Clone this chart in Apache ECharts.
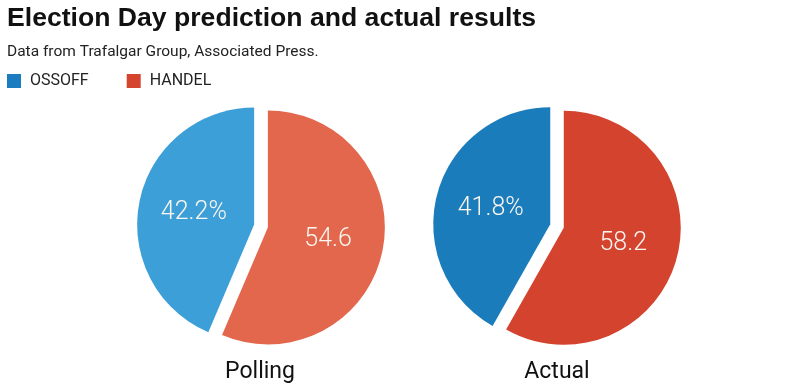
<!DOCTYPE html>
<html>
<head>
<meta charset="utf-8">
<script src="https://cdn.jsdelivr.net/npm/echarts@6/dist/echarts.min.js"></script>
<style>
html,body{margin:0;padding:0;background:#fff;}
#chart{width:800px;height:388px;}
</style>
</head>
<body>
<div id="chart"></div>
<script>
// Data
const candidates = ['OSSOFF', 'HANDEL'];
const pollingValues = [42.2, 54.6];
const actualValues = [41.8, 58.2];
const panelNames = ['Polling', 'Actual'];
const titleText = 'Election Day prediction and actual results';
const subtitleText = 'Data from Trafalgar Group, Associated Press.';

const pollingColors = ['#3d9fd8', '#e2674c'];
const actualColors = ['#1a7cbb', '#d3432e'];
const legendColors = ['#1b7dbf', '#d5442e'];

const FONT = 'Roboto, "Liberation Sans", sans-serif';
const TITLE_FONT = '"Liberation Sans", Arial, sans-serif';

function pieData(values, colors) {
  // Handel first so it starts at 12 o'clock going clockwise
  return [
    { name: candidates[1], value: values[1], selected: true, itemStyle: { color: colors[1] },
      label: { formatter: '{c}' } },
    { name: candidates[0], value: values[0], selected: true, itemStyle: { color: colors[0] },
      label: { formatter: '{c}%' } }
  ];
}

function pieSeries(name, values, colors, center) {
  return {
    type: 'pie',
    name: name,
    center: center,
    radius: 117,
    startAngle: 90,
    clockwise: true,
    selectedMode: 'multiple',
    selectedOffset: 7,
    avoidLabelOverlap: false,
    label: {
      show: true,
      position: 'inside',
      color: '#fbf6f0',
      fontSize: 25,
      fontFamily: FONT,
      fontWeight: 300
    },
    labelLine: { show: false },
    emphasis: { disabled: true },
    itemStyle: { borderWidth: 0 },
    data: pieData(values, colors)
  };
}

const chart = echarts.init(document.getElementById('chart'), null, { renderer: 'canvas' });
chart.setOption({
  animation: false,
  backgroundColor: '#ffffff',
  title: [
    {
      text: titleText,
      left: 7, top: 5, padding: 0,
      textStyle: { fontFamily: TITLE_FONT, fontSize: 26.6, fontWeight: 'bold', color: '#111' }
    },
    {
      text: subtitleText,
      left: 7, top: 44, padding: 0,
      textStyle: { fontFamily: FONT, fontSize: 15.5, fontWeight: 'normal', color: '#222' }
    },
    {
      text: panelNames[0],
      left: 260, top: 361, textAlign: 'center', padding: 0,
      textStyle: { fontFamily: FONT, fontSize: 23, fontWeight: 'normal', color: '#111' }
    },
    {
      text: panelNames[1],
      left: 557, top: 361, textAlign: 'center', padding: 0,
      textStyle: { fontFamily: FONT, fontSize: 23, fontWeight: 'normal', color: '#111' }
    }
  ],
  legend: {
    left: 7, top: 73,
    padding: 0,
    icon: 'rect',
    itemWidth: 14, itemHeight: 14,
    itemGap: 38,
    selectedMode: false,
    textStyle: { fontFamily: FONT, fontSize: 16, color: '#222', padding: [0, 0, 0, 4] },
    data: [
      { name: candidates[0], itemStyle: { color: legendColors[0] } },
      { name: candidates[1], itemStyle: { color: legendColors[1] } }
    ]
  },
  series: [
    pieSeries(panelNames[0], pollingValues, pollingColors, [261, 226]),
    pieSeries(panelNames[1], actualValues, actualColors, [557, 226])
  ]
});
</script>
</body>
</html>
